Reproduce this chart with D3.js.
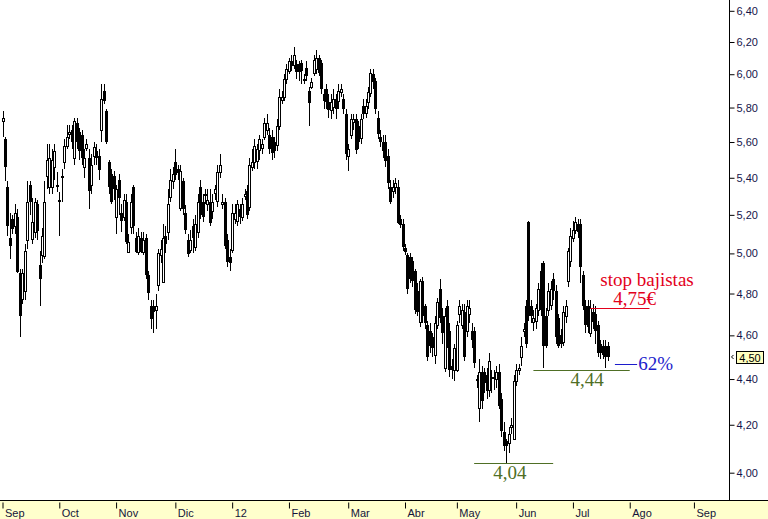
<!DOCTYPE html>
<html><head><meta charset="utf-8">
<script src="https://cdn.jsdelivr.net/npm/d3@7"></script>
<style>body{margin:0;background:#fff}svg{display:block}</style>
</head><body><svg id="c" width="768" height="519"></svg>
<script>
const open=[5.72,5.62,5.35,5.08,5.18,5.14,5.19,4.90,4.77,4.81,
5.07,5.36,5.07,5.11,5.26,4.94,4.99,4.99,5.41,5.35,
5.35,5.46,5.36,5.28,5.41,5.49,5.58,5.65,5.67,5.51,
5.71,5.66,5.64,5.46,5.57,5.51,5.36,5.52,5.55,5.52,
5.67,5.90,5.78,5.49,5.42,5.41,5.19,5.39,5.21,5.19,
5.27,5.01,5.14,5.35,5.08,5.01,5.08,5.01,5.08,4.89,
4.74,4.74,4.72,4.84,4.99,4.86,5.09,5.11,5.30,5.38,
5.49,5.45,5.24,5.38,5.21,5.07,5.02,5.14,5.03,5.11,
5.35,5.27,5.31,5.26,5.27,5.22,5.32,5.27,5.43,5.26,
5.27,5.07,4.98,5.02,5.18,5.17,5.23,5.19,5.30,5.33,
5.24,5.46,5.49,5.49,5.56,5.57,5.63,5.67,5.64,5.63,
5.60,5.58,5.69,5.84,5.86,5.97,6.02,6.08,6.06,6.06,
6.06,6.07,5.97,6.04,5.90,5.92,6.01,6.03,6.10,6.07,
5.88,5.91,5.83,5.78,5.80,5.85,5.84,5.89,5.85,5.76,
5.52,5.64,5.71,5.73,5.69,5.62,5.81,5.77,5.83,5.89,
6.00,5.96,5.74,5.63,5.60,5.60,5.52,5.35,5.33,5.35,
5.35,5.18,5.15,5.03,4.99,4.98,4.96,4.91,4.81,4.66,
4.86,4.74,4.65,4.62,4.59,4.51,4.65,4.82,4.69,4.45,
4.74,4.62,4.46,4.44,4.44,4.70,4.65,4.71,4.62,4.70,
4.62,4.62,4.40,4.27,4.43,4.43,4.42,4.35,4.41,4.41,
4.40,4.43,4.31,4.17,4.13,4.12,4.19,4.14,4.39,4.44,
4.50,4.62,4.74,5.16,4.74,4.66,4.67,4.72,4.91,4.95,
4.69,4.72,4.74,4.87,4.81,4.68,4.60,4.57,4.69,4.86,
4.96,5.08,5.12,5.15,5.15,4.89,4.74,4.74,4.61,4.71,
4.70,4.65,4.56,4.55,4.55,4.55];
const high=[5.78,5.63,5.38,5.21,5.20,5.26,5.23,4.92,4.92,5.05,
5.38,5.38,5.29,5.29,5.28,5.01,5.13,5.38,5.59,5.59,
5.56,5.59,5.43,5.32,5.45,5.62,5.70,5.70,5.70,5.74,
5.74,5.68,5.67,5.56,5.62,5.56,5.53,5.60,5.59,5.56,
5.94,5.94,5.79,5.50,5.45,5.44,5.36,5.42,5.26,5.31,
5.31,5.10,5.31,5.36,5.11,5.13,5.11,5.11,5.10,4.91,
4.77,4.77,4.80,5.02,5.07,5.15,5.14,5.34,5.45,5.46,
5.56,5.47,5.47,5.40,5.25,5.10,5.12,5.18,5.20,5.31,
5.39,5.31,5.34,5.34,5.34,5.31,5.36,5.47,5.53,5.31,
5.29,5.10,5.02,5.26,5.26,5.28,5.26,5.29,5.34,5.36,
5.51,5.56,5.62,5.59,5.64,5.62,5.74,5.76,5.68,5.67,
5.63,5.73,5.91,5.90,6.00,6.06,6.10,6.12,6.17,6.09,
6.08,6.09,6.00,6.08,5.92,5.98,6.12,6.15,6.12,6.09,
5.91,5.94,5.88,5.88,5.91,5.88,5.94,5.94,5.88,5.79,
5.59,5.76,5.76,5.76,5.72,5.76,5.85,5.85,5.92,6.03,
6.03,5.98,5.78,5.67,5.64,5.64,5.56,5.39,5.39,5.40,
5.39,5.20,5.18,5.05,5.00,5.00,4.98,4.92,4.85,4.87,
4.88,4.75,4.67,4.66,4.61,4.69,4.78,4.87,4.73,4.73,
4.77,4.66,4.49,4.56,4.67,4.77,4.75,4.75,4.77,4.77,
4.66,4.64,4.42,4.49,4.46,4.45,4.45,4.52,4.44,4.44,
4.46,4.47,4.34,4.21,4.14,4.19,4.23,4.42,4.47,4.47,
4.59,4.66,4.77,5.17,4.77,4.72,4.75,4.85,4.95,4.96,
4.73,4.85,4.86,4.90,4.84,4.70,4.63,4.74,4.77,5.03,
5.13,5.17,5.19,5.18,5.18,4.91,4.77,4.77,4.77,4.75,
4.74,4.67,4.58,4.58,4.58,4.57];
const low=[5.63,5.38,5.09,4.97,5.10,5.10,4.90,4.59,4.75,4.77,
5.02,5.20,5.05,5.08,5.07,4.74,4.95,4.97,5.34,5.31,
5.31,5.39,5.32,5.09,5.27,5.45,5.56,5.62,5.56,5.47,
5.56,5.50,5.47,5.40,5.55,5.23,5.31,5.47,5.47,5.39,
5.60,5.82,5.59,5.31,5.26,5.28,5.10,5.20,5.11,5.17,
5.05,5.00,5.10,5.10,5.00,4.99,5.00,4.99,4.87,4.77,
4.63,4.61,4.63,4.81,4.95,4.85,5.00,5.07,5.27,5.34,
5.39,5.39,5.22,5.20,5.10,4.98,5.00,5.00,5.01,5.08,
5.18,5.16,5.26,5.22,5.14,5.18,5.28,5.24,5.40,5.23,
5.02,4.93,4.91,5.00,5.15,5.14,5.15,5.17,5.28,5.18,
5.22,5.44,5.45,5.45,5.50,5.53,5.61,5.64,5.53,5.50,
5.51,5.55,5.67,5.82,5.84,5.94,6.00,6.02,6.03,5.97,
5.96,5.94,5.94,5.96,5.69,5.91,5.99,6.00,5.99,5.88,
5.79,5.79,5.74,5.73,5.76,5.73,5.79,5.86,5.76,5.50,
5.44,5.62,5.67,5.53,5.56,5.59,5.73,5.74,5.79,5.86,
5.91,5.76,5.62,5.57,5.51,5.46,5.34,5.26,5.29,5.31,
5.15,5.13,5.01,4.99,4.80,4.85,4.83,4.70,4.69,4.64,
4.66,4.63,4.48,4.52,4.50,4.47,4.63,4.66,4.56,4.43,
4.54,4.41,4.40,4.39,4.43,4.66,4.63,4.48,4.59,4.66,
4.54,4.45,4.36,4.21,4.27,4.34,4.31,4.32,4.34,4.35,
4.36,4.27,4.15,4.09,4.04,4.08,4.16,4.14,4.37,4.42,
4.46,4.59,4.54,4.67,4.66,4.62,4.63,4.69,4.69,4.45,
4.54,4.69,4.72,4.77,4.56,4.54,4.54,4.55,4.66,4.83,
4.93,5.06,5.10,5.08,4.85,4.72,4.61,4.61,4.59,4.63,
4.56,4.50,4.49,4.49,4.45,4.48];
const close=[5.74,5.46,5.14,5.04,5.13,5.21,4.91,4.69,4.90,5.01,
5.27,5.27,5.16,5.27,5.12,4.87,5.09,5.27,5.50,5.51,
5.50,5.55,5.35,5.27,5.40,5.58,5.63,5.66,5.60,5.72,
5.60,5.55,5.51,5.51,5.59,5.33,5.47,5.57,5.51,5.44,
5.85,5.84,5.60,5.35,5.27,5.34,5.34,5.29,5.17,5.28,
5.06,5.06,5.27,5.14,5.01,5.09,5.01,5.07,4.89,4.80,
4.68,4.71,4.74,5.00,5.02,5.08,5.05,5.26,5.39,5.42,
5.42,5.43,5.44,5.23,5.12,5.00,5.07,5.08,5.15,5.27,
5.20,5.19,5.30,5.28,5.16,5.27,5.34,5.43,5.47,5.27,
5.04,4.96,4.95,5.21,5.21,5.26,5.19,5.26,5.31,5.20,
5.47,5.49,5.58,5.56,5.62,5.59,5.71,5.71,5.56,5.54,
5.55,5.69,5.86,5.86,5.97,6.03,6.08,6.05,6.12,6.01,
6.01,6.02,5.96,5.99,5.83,5.95,6.09,6.10,6.01,5.91,
5.84,5.83,5.78,5.83,5.85,5.79,5.90,5.91,5.79,5.53,
5.56,5.73,5.73,5.55,5.60,5.73,5.76,5.81,5.89,6.01,
5.95,5.79,5.65,5.60,5.55,5.49,5.37,5.27,5.35,5.37,
5.16,5.15,5.03,5.01,4.82,4.87,4.86,4.72,4.71,4.86,
4.69,4.66,4.50,4.55,4.54,4.66,4.76,4.68,4.61,4.69,
4.57,4.44,4.44,4.54,4.65,4.74,4.72,4.50,4.74,4.73,
4.58,4.47,4.39,4.43,4.30,4.38,4.35,4.48,4.40,4.40,
4.43,4.28,4.17,4.11,4.11,4.16,4.20,4.39,4.44,4.45,
4.55,4.63,4.56,4.69,4.69,4.68,4.73,4.82,4.72,4.55,
4.55,4.81,4.82,4.81,4.59,4.55,4.56,4.71,4.74,5.01,
5.09,5.12,5.16,5.11,4.93,4.74,4.65,4.64,4.73,4.66,
4.62,4.52,4.52,4.51,4.50,4.50];

const yTicks=[4.0,4.2,4.4,4.6,4.8,5.0,5.2,5.4,5.6,5.8,6.0,6.2,6.4];
const monthLabels=["Sep","Oct","Nov","Dic","12","Feb","Mar","Abr","May","Jun","Jul","Ago","Sep"];
const monthStart=[0,23,46,70,93,116,140,163,184,208,231,254,280];

// annotation levels: [price, fromIndex, toIndex]
const supportLow=[4.04,191,223];   const supportLowText="4,04";  const supportLowAt=205.5;
const supportMid=[4.44,215,254];   const supportMidText="4,44";  const supportMidAt=236.7;
const stopLine=[4.73,238,262];     const stopText1="stop bajistas"; const stopText2="4,75€";
const stopText1At=261; const stopText2At=256;
const fiboLine=[4.47,248,257];     const fiboText="62%"; const fiboAt=257.5;

const svg=d3.select("#c");
const axisX=729, bandTop=500;
const N=close.length;
const x=d3.scaleLinear().domain([0,N-1]).range([2.5,607.5]);
const y=d3.scaleLog().domain([4.0,6.4]).range([472.7,10.8]);
const fmt=v=>d3.format(".2f")(v).replace(".",",");

// candles
const g=svg.append("g").attr("shape-rendering","crispEdges");
const idx=d3.range(N);
g.selectAll("line.w").data(idx).join("line")
  .attr("x1",i=>Math.round(x(i))+0.5).attr("x2",i=>Math.round(x(i))+0.5)
  .attr("y1",i=>y(high[i])).attr("y2",i=>y(low[i]))
  .attr("stroke","#000").attr("stroke-width",1);
g.selectAll("rect.b").data(idx).join("rect")
  .each(function(i){
    const up=close[i]>=open[i];
    const top=y(Math.max(open[i],close[i])), bot=y(Math.min(open[i],close[i]));
    const h=Math.max(1,bot-top);
    const cx=Math.round(x(i));
    const r=d3.select(this);
    if(up){
      r.attr("x",cx-0.5).attr("y",Math.round(top)+0.5).attr("width",2).attr("height",Math.max(1,Math.round(h)))
       .attr("fill","#fff").attr("stroke","#000").attr("stroke-width",1);
    } else {
      r.attr("x",cx-1).attr("y",Math.round(top)).attr("width",3).attr("height",Math.max(1,Math.round(h)))
       .attr("fill","#000");
    }
  });

// y axis
svg.append("line").attr("x1",axisX+0.5).attr("x2",axisX+0.5).attr("y1",0).attr("y2",bandTop)
  .attr("stroke","#000").attr("stroke-width",1);
const ya=svg.append("g").attr("transform",`translate(${axisX+0.5},0)`)
  .call(d3.axisRight(y).tickValues(yTicks).tickSize(5).tickPadding(2).tickFormat(fmt));
ya.select(".domain").remove();
ya.selectAll(".tick line").attr("stroke","#000");
ya.selectAll("text").attr("font-family","'Liberation Sans',Arial,sans-serif").attr("font-size",11).attr("fill","#14144a");

// x band
svg.append("rect").attr("x",0).attr("y",bandTop).attr("width",768).attr("height",519-bandTop).attr("fill","#ffffcc");
svg.append("line").attr("x1",0).attr("x2",768).attr("y1",bandTop+0.5).attr("y2",bandTop+0.5).attr("stroke","#000");
const xa=svg.append("g").attr("transform",`translate(0,${bandTop+2.5})`)
  .call(d3.axisBottom(x).tickValues(monthStart).tickSize(6).tickFormat((d,i)=>monthLabels[i]));
xa.select(".domain").remove();
xa.selectAll(".tick line").attr("stroke","#000");
xa.selectAll(".tick text").attr("text-anchor","start").attr("x",2).attr("y",14.5).attr("dy",0)
  .attr("font-family","'Liberation Sans',Arial,sans-serif").attr("font-size",11).attr("fill","#14143a");

// last price box
const last=close[N-1];
const ly=y(last);
svg.append("polyline").attr("points",`${axisX+4.5},${ly-2} ${axisX+2.5},${ly} ${axisX+4.5},${ly+2}`)
  .attr("fill","none").attr("stroke","#000").attr("stroke-width",1);
svg.append("rect").attr("x",axisX+7.5).attr("y",Math.round(ly)-5.5).attr("width",27).attr("height",12)
  .attr("fill","#ffffc0").attr("stroke","#000").attr("stroke-width",1);
svg.append("text").attr("x",axisX+21).attr("y",Math.round(ly)+4.5).attr("text-anchor","middle")
  .attr("font-family","'Liberation Sans',Arial,sans-serif").attr("font-size",11).attr("fill","#000").text(fmt(last));

// annotations
const serif="'Liberation Serif','Times New Roman',serif";
const green="#4f6f25", red="#e3001b", blue="#1c1ccc";
function hline(l,c){
  svg.append("line").attr("x1",x(l[1])).attr("x2",x(l[2])).attr("y1",Math.round(y(l[0]))+0.5).attr("y2",Math.round(y(l[0]))+0.5)
    .attr("stroke",c).attr("stroke-width",1);
}
function label(t,at,v,dy,c,anchor){
  svg.append("text").attr("x",x(at)).attr("y",y(v)+dy).attr("text-anchor",anchor||"middle")
    .attr("font-family",serif).attr("font-size",19).attr("fill",c).text(t);
}
hline(supportLow,green); label(supportLowText,supportLowAt,supportLow[0],16,green);
hline(supportMid,green); label(supportMidText,supportMidAt,supportMid[0],16,green);
hline(stopLine,red); label(stopText2,stopText2At,stopLine[0],-3,red); label(stopText1,stopText1At,stopLine[0],-22,red);
hline(fiboLine,blue); label(fiboText,fiboAt,fiboLine[0],6,blue,"start");
</script></body></html>
